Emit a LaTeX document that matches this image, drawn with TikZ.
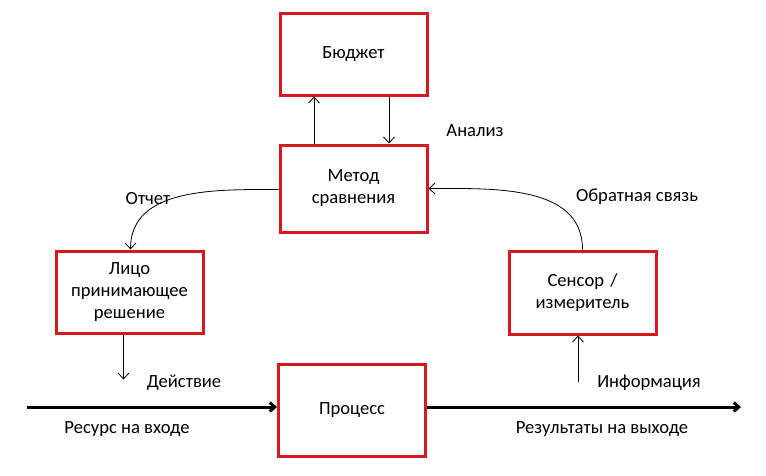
\documentclass[tikz,border=0pt]{standalone}
\usepackage{fontspec}
\setmainfont{Carlito}
\usetikzlibrary{arrows.meta, positioning}

\definecolor{boxred}{RGB}{214,24,32}

\begin{document}
\begin{tikzpicture}[
    x=1pt, y=1pt,
    font=\fontsize{18.6}{22}\selectfont,
    box/.style={
        rectangle, draw=boxred, line width=3pt, fill=white,
        text width=140pt, align=center, minimum width=147pt,
        minimum height=84pt, inner sep=2pt
    },
    arrow/.style={->, line width=0.8pt, >={Straight Barb[length=6pt,width=11pt]}},
    flow/.style={->, line width=3pt, >={Straight Barb[length=5pt,width=9pt]}},
    lbl/.style={inner sep=0pt}
]
\useasboundingbox (0,0) rectangle (766,-475);

%% Centre
\node (metod) [box, minimum height=87pt] at (353.5,-188.5) {Метод\\сравнения};

%% Top
\node (budget) [box, minimum height=82pt, above=47pt of metod] {Бюджет};

%% Sides
\node (litso)  [box, minimum height=82pt, below left=16pt and 74pt of metod]
    {Лицо\\принимающее\\решение};
\node (sensor) [box, minimum height=83pt, below right=16pt and 79pt of metod]
    {Сенсор /\\измеритель};

%% Bottom
\node (process) [box, minimum height=92pt, below=129pt of metod, xshift=-1.5pt] {Процесс};

%% Free ends
\coordinate (in)    at ([xshift=-250pt, yshift=3pt]process.west);
\coordinate (out)   at ([xshift=314pt, yshift=3pt]process.east);
\coordinate (act)   at ([xshift=-6pt, yshift=-45pt]litso.south);
\coordinate (info)  at ([xshift=-4.5pt, yshift=-46pt]sensor.south);

%% Arrows
\draw [arrow] ([xshift=-39.5pt]metod.north) -- ([xshift=-39.5pt]budget.south);
\draw [arrow] ([xshift=35.5pt]budget.south) -- ([xshift=35.5pt]metod.north);
\draw [arrow] ([yshift=-1pt]metod.west) to[out=180, in=90] ([xshift=1pt]litso.north);
\draw [arrow] (sensor.north) to[out=90, in=0] (metod.east);
\draw [arrow] (litso.south -| act) -- (act);
\draw [arrow] (info) -- (info |- sensor.south);
\draw [flow] (in) -- (in -| process.west);
\draw [flow] (out -| process.east) -- (out);

%% Labels
\node (analiz)  [lbl] at (475,-131) {Анализ};
\node (otchet)  [lbl] at (148,-199) {Отчет};
\node (obratn)  [lbl] at (637,-197) {Обратная связь};
\node (deistv)  [lbl] at (184,-383) {Действие};
\node (inform)  [lbl] at (649,-383) {Информация};
\node (resurs)  [lbl] at (127,-429) {Ресурс на входе};
\node (result)  [lbl] at (602,-429) {Результаты на выходе};

\end{tikzpicture}
\end{document}
